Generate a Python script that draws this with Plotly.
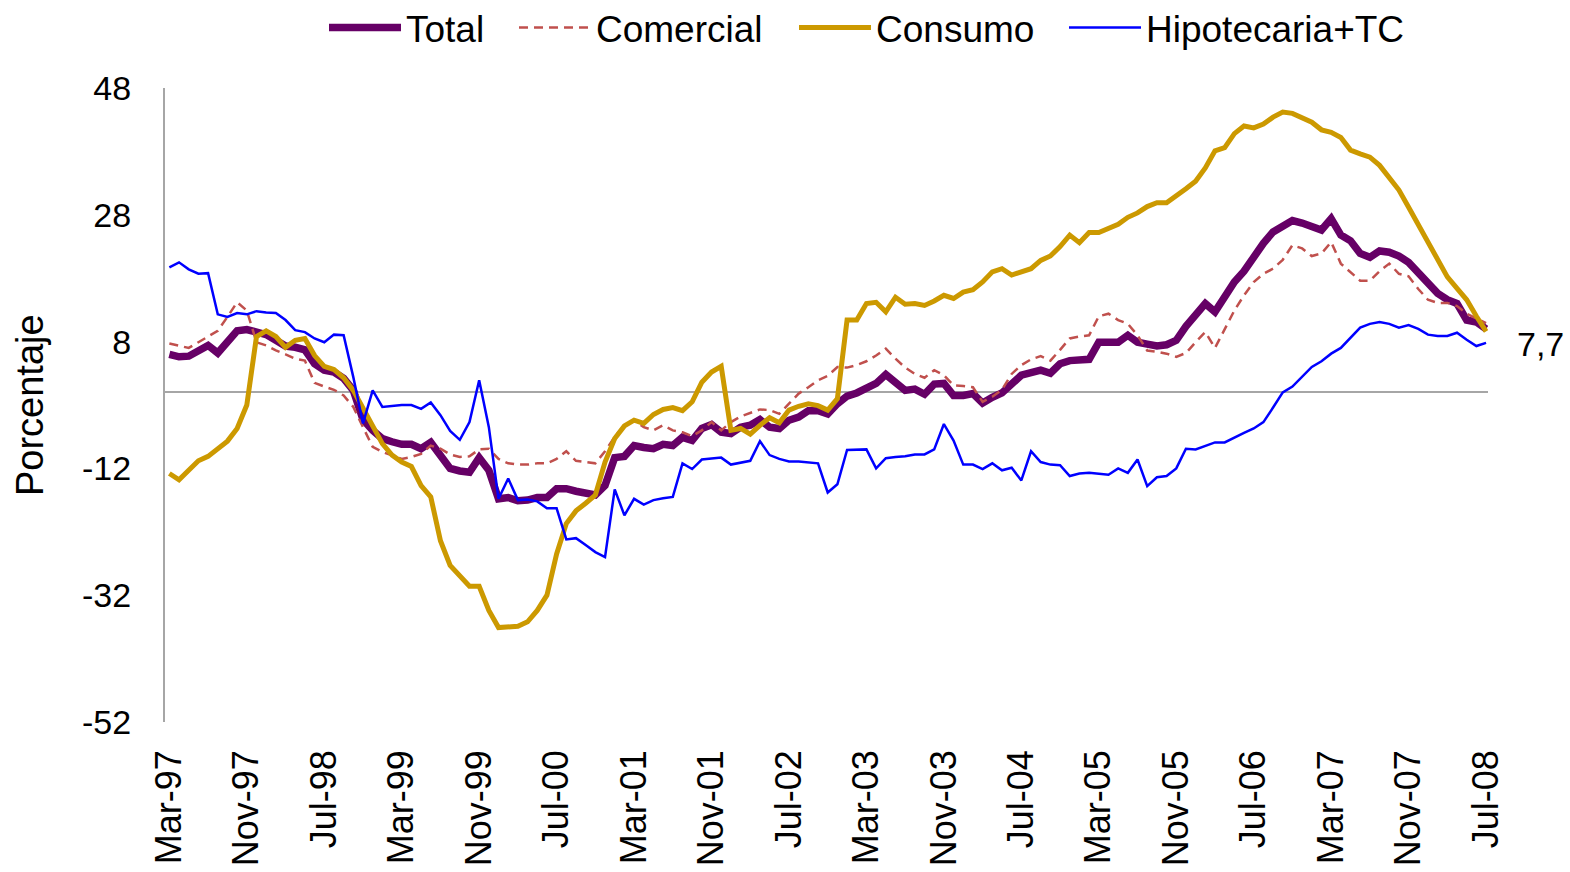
import plotly.graph_objects as go
import pandas as pd

# Monthly categories Mar-97 .. Jul-08
_mes = {1: "Ene", 2: "Feb", 3: "Mar", 4: "Abr", 5: "May", 6: "Jun",
        7: "Jul", 8: "Ago", 9: "Sep", 10: "Oct", 11: "Nov", 12: "Dic"}
categories = [f"{_mes[p.month]}-{p.year % 100:02d}"
              for p in pd.period_range("1997-03", "2008-07", freq="M")]

tick_labels = ["Mar-97", "Nov-97", "Jul-98", "Mar-99", "Nov-99", "Jul-00",
               "Mar-01", "Nov-01", "Jul-02", "Mar-03", "Nov-03", "Jul-04",
               "Mar-05", "Nov-05", "Jul-06", "Mar-07", "Nov-07", "Jul-08"]
y_ticks = [48, 28, 8, -12, -32, -52]

total = [6.0, 5.6, 5.7, 6.6, 7.4, 6.2, 7.9, 9.7, 9.9, 9.5, 9.1, 8.2, 7.3, 7.1, 6.7, 4.5,
         3.5, 3.2, 2.2, 0.3, -4.3, -6.0, -7.3, -7.8, -8.2, -8.2, -8.9, -7.9, -9.9, -12.0,
         -12.4, -12.6, -10.3, -12.3, -16.8, -16.6, -17.1, -17.0, -16.6, -16.6, -15.2, -15.2,
         -15.6, -15.9, -16.2, -14.7, -10.3, -10.1, -8.4, -8.7, -8.9, -8.2, -8.4, -7.1, -7.6,
         -5.7, -5.1, -6.3, -6.5, -5.5, -5.2, -4.3, -5.5, -5.7, -4.4, -3.9, -2.9, -2.9, -3.4,
         -1.8, -0.6, -0.1, 0.6, 1.4, 2.8, 1.4, 0.3, 0.5, -0.3, 1.3, 1.4, -0.5, -0.5, -0.2,
         -1.7, -0.8, -0.1, 1.3, 2.7, 3.1, 3.5, 3.0, 4.5, 5.0, 5.2, 5.2, 7.9, 8.0, 7.9, 9.0,
         7.9, 7.6, 7.3, 7.5, 8.2, 10.4, 12.3, 14.0, 12.7, 15.0, 17.4, 19.1, 21.5, 23.5, 25.3,
         26.2, 27.1, 26.7, 26.0, 25.6, 27.4, 24.8, 23.9, 21.9, 21.3, 22.3, 22.1, 21.5, 20.5,
         18.9, 17.6, 15.6, 14.6, 14.0, 11.4, 11.1, 10.0]

comercial = [7.7, 7.4, 7.0, 7.9, 8.8, 9.7, 11.9, 14.2, 12.9, 7.9, 7.4, 6.6, 6.0, 5.3, 5.0,
             1.5, 0.9, 0.4, -0.5, -2.3, -5.5, -8.6, -9.4, -9.9, -10.5, -10.2, -9.7, -8.4,
             -8.9, -9.8, -10.2, -10.1, -9.0, -8.9, -10.5, -11.2, -11.4, -11.4, -11.2, -11.2,
             -10.5, -9.3, -10.8, -11.0, -11.2, -9.3, -7.0, -5.2, -4.4, -5.5, -6.0, -5.2, -6.0,
             -6.3, -6.9, -6.0, -4.7, -6.0, -4.7, -3.8, -3.3, -2.7, -2.8, -3.4, -1.8, -0.2, 0.8,
             1.9, 2.6, 4.0, 3.9, 4.3, 4.9, 5.8, 6.9, 5.3, 3.9, 2.9, 2.3, 3.5, 2.7, 1.1, 1.0,
             0.8, -1.5, -0.7, 0.4, 2.9, 4.3, 5.2, 5.7, 5.0, 6.7, 8.5, 8.8, 9.0, 12.0, 12.4,
             11.4, 10.8, 9.0, 6.6, 6.4, 6.1, 5.6, 6.2, 7.9, 9.5, 7.0, 10.0, 12.9, 15.3, 17.4,
             18.7, 19.5, 20.9, 23.2, 22.7, 21.5, 21.9, 23.7, 20.3, 19.0, 17.6, 17.6, 19.1,
             20.3, 18.7, 18.3, 16.3, 14.6, 14.1, 14.1, 13.6, 12.4, 11.6, 10.9]

consumo = [-12.8, -13.8, -12.3, -10.8, -10.1, -8.9, -7.7, -5.7, -2.0, 8.8, 9.7, 8.8, 7.1,
           8.2, 8.5, 5.8, 4.1, 3.6, 2.3, 0.3, -2.6, -5.2, -8.1, -9.9, -11.0, -11.7, -14.7,
           -16.5, -23.4, -27.3, -28.9, -30.6, -30.6, -34.4, -37.1, -37.0, -36.9, -36.2,
           -34.4, -32.0, -25.5, -20.7, -18.7, -17.5, -16.2, -11.0, -7.3, -5.3, -4.4, -4.9,
           -3.5, -2.7, -2.4, -2.9, -1.5, 1.6, 3.2, 4.1, -6.0, -5.7, -6.6, -5.2, -4.0, -4.8,
           -2.8, -2.2, -1.8, -2.1, -2.8, -1.0, 11.4, 11.4, 14.0, 14.2, 12.7, 15.0, 13.9,
           14.0, 13.7, 14.4, 15.3, 14.8, 15.8, 16.2, 17.4, 19.0, 19.5, 18.5, 19.0, 19.5,
           20.8, 21.5, 23.0, 24.8, 23.6, 25.2, 25.2, 25.8, 26.5, 27.6, 28.3, 29.3, 29.9,
           29.9, 30.9, 32.1, 33.3, 35.4, 38.1, 38.6, 40.8, 42.0, 41.7, 42.3, 43.4, 44.2,
           44.0, 43.2, 42.6, 41.4, 41.0, 40.2, 38.2, 37.6, 37.1, 35.8, 33.9, 31.9, 29.2,
           26.5, 24.0, 20.9, 18.2, 16.4, 14.6, 12.0, 9.6]

hipotecaria_tc = [19.7, 20.5, 19.4, 18.7, 18.8, 12.3, 11.9, 12.5, 12.3, 12.8, 12.6, 12.5,
                  11.4, 9.8, 9.5, 8.5, 7.9, 9.1, 9.0, 2.4, -4.9, 0.3, -2.3, -2.1, -2.0, -2.0,
                  -2.6, -1.6, -3.6, -6.1, -7.5, -4.7, 1.9, -5.5, -16.8, -13.6, -17.0, -16.9,
                  -17.2, -18.3, -18.3, -23.2, -23.0, -24.1, -25.2, -26.0, -15.3, -19.4, -16.8,
                  -17.7, -17.0, -16.7, -16.5, -11.2, -12.1, -10.6, -10.4, -10.3, -11.4, -11.1,
                  -10.8, -7.7, -9.9, -10.5, -10.9, -10.9, -11.0, -11.2, -15.8, -14.5, -9.1,
                  -9.0, -9.0, -12.0, -10.4, -10.2, -10.1, -9.8, -9.8, -9.0, -5.0, -7.6, -11.4,
                  -11.4, -12.1, -11.2, -12.3, -11.9, -13.9, -9.3, -11.0, -11.4, -11.5, -13.2,
                  -12.8, -12.7, -12.8, -13.0, -12.0, -12.7, -10.6, -14.8, -13.4, -13.2, -12.0,
                  -8.9, -9.0, -8.5, -7.9, -7.9, -7.1, -6.4, -5.7, -4.7, -2.4, 0.0, 0.9, 2.5,
                  4.0, 4.9, 6.1, 7.0, 8.6, 10.2, 10.8, 11.1, 10.8, 10.2, 10.6, 10.0, 9.1, 8.9,
                  8.9, 9.4, 8.3, 7.3, 7.8]

last_label = "7,7"

FONT = "Liberation Sans, Arial, sans-serif"

series = [
    ("Total", total, dict(color="#660066", width=7.5), "legend"),
    ("Comercial", comercial, dict(color="#C0504D", width=2.5, dash="9px,6px"), "legend2"),
    ("Consumo", consumo, dict(color="#CC9900", width=5), "legend3"),
    ("Hipotecaria+TC", hipotecaria_tc, dict(color="#0000FF", width=2.5), "legend4"),
]

fig = go.Figure()
for name, vals, line, leg in series:
    fig.add_trace(go.Scatter(x=categories, y=vals, name=name, mode="lines",
                             line=line, legend=leg))

fig.add_annotation(x=categories[-1], y=7.7, xref="x", yref="y", text=last_label,
                   showarrow=False, xanchor="left", yanchor="middle", xshift=29,
                   font=dict(family=FONT, size=34, color="#000000"))
fig.add_annotation(x=-0.102, y=0.5, xref="paper", yref="paper", text="Porcentaje",
                   textangle=-90, showarrow=False, xanchor="center", yanchor="middle",
                   font=dict(family=FONT, size=38, color="#000000"))


def legend_box(x_px):
    return dict(orientation="h", xref="container", yref="container",
                x=x_px / 1570, xanchor="left", y=1 - 28 / 872, yanchor="middle",
                font=dict(family=FONT, size=37, color="#000000"),
                bgcolor="rgba(0,0,0,0)", itemwidth=72, tracegroupgap=0)


fig.update_layout(
    width=1570, height=872,
    margin=dict(l=165, r=82, t=88, b=150, autoexpand=False),
    paper_bgcolor="white", plot_bgcolor="white",
    font=dict(family=FONT, color="#000000"),
    showlegend=True,
    legend=legend_box(324),
    legend2=legend_box(514),
    legend3=legend_box(794),
    legend4=legend_box(1064),
    xaxis=dict(type="category", categoryorder="array", categoryarray=categories,
               range=[-0.45, len(categories) - 0.8],
               tickmode="array", tickvals=tick_labels, ticktext=tick_labels,
               tickangle=-90, ticks="", showgrid=False, showline=False, zeroline=False,
               ticklabelstandoff=20,
               tickfont=dict(family=FONT, size=36, color="#000000")),
    yaxis=dict(range=[-52, 48], tickmode="array", tickvals=y_ticks,
               ticktext=[str(v) for v in y_ticks],
               showgrid=False, ticks="", showline=True, linecolor="#A6A6A6", linewidth=2,
               zeroline=True, zerolinecolor="#A6A6A6", zerolinewidth=2,
               ticklabelstandoff=25,
               tickfont=dict(family=FONT, size=34, color="#000000")),
)

fig.write_html("out.html", config={"displayModeBar": False},
               post_script="document.body.style.margin='0';")
